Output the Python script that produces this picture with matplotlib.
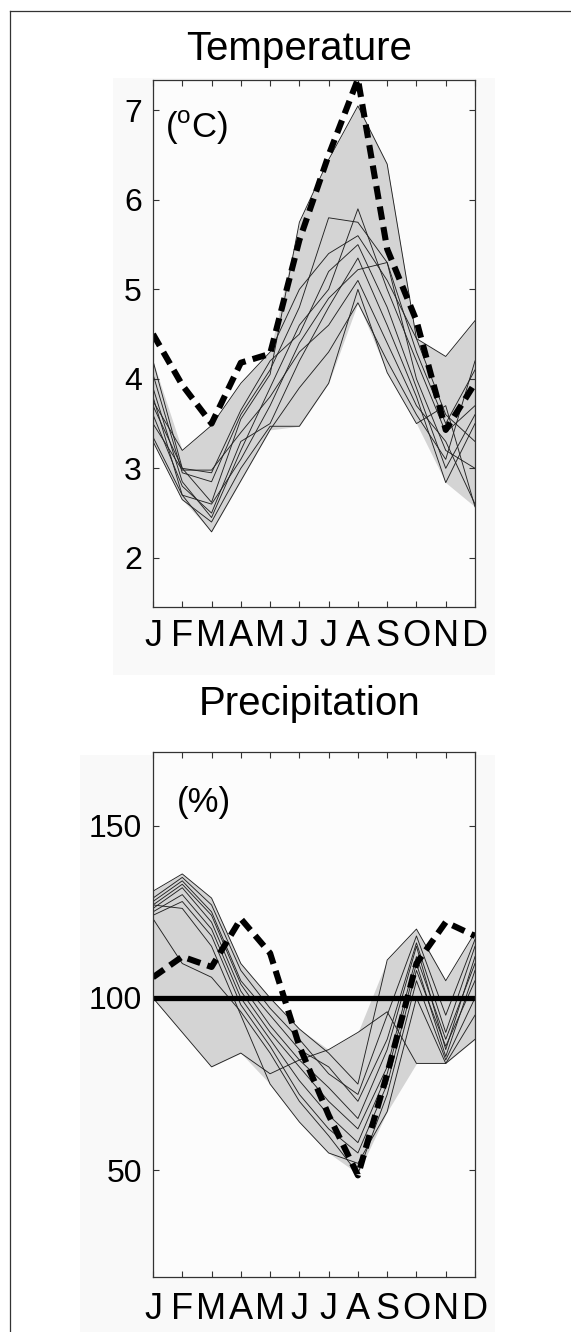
import numpy as np
import matplotlib
matplotlib.use("Agg")
import matplotlib.pyplot as plt
from matplotlib.lines import Line2D
from matplotlib.patches import Rectangle

plt.rcParams["font.family"] = ["Liberation Sans", "DejaVu Sans"]
plt.rcParams["mathtext.fontset"] = "custom"
plt.rcParams["mathtext.rm"] = "Liberation Sans"

months = ["J", "F", "M", "A", "M", "J", "J", "A", "S", "O", "N", "D"]
month_idx = np.arange(1, 13)

# Temperature change (degC): ensemble members
temp_m1 = [4.20, 3.00, 2.62, 3.55, 4.05, 5.75, 6.45, 7.05, 6.40, 4.45, 3.60, 3.30]
temp_m2 = [4.05, 2.95, 2.85, 3.60, 4.10, 4.80, 5.80, 5.75, 5.30, 4.30, 3.50, 4.10]
temp_m3 = [3.90, 2.85, 2.45, 3.20, 3.90, 4.60, 5.00, 5.90, 5.00, 4.20, 3.40, 3.70]
temp_m4 = [3.80, 2.70, 2.60, 3.10, 3.70, 4.40, 4.90, 5.22, 5.30, 4.00, 3.20, 3.00]
temp_m5 = [3.70, 3.00, 2.95, 3.65, 4.20, 4.50, 5.20, 5.50, 4.80, 3.90, 3.00, 3.60]
temp_m6 = [3.60, 2.80, 2.50, 3.30, 3.50, 4.20, 4.80, 5.35, 4.60, 3.80, 2.84, 3.50]
temp_m7 = [3.50, 2.98, 2.98, 3.40, 3.80, 4.30, 4.60, 5.10, 4.40, 3.70, 3.30, 2.60]
temp_m8 = [3.35, 2.70, 2.29, 2.86, 3.43, 3.90, 4.30, 4.85, 4.20, 3.60, 3.10, 4.20]
temp_m9 = [3.30, 2.65, 2.40, 3.00, 3.47, 3.47, 3.95, 5.00, 4.07, 3.50, 3.70, 2.57]
temp_m10 = [3.75, 3.20, 3.48, 3.95, 4.30, 5.00, 5.40, 5.60, 5.10, 4.45, 4.25, 4.65]
temp_dashed = [4.50, 3.93, 3.50, 4.18, 4.28, 5.55, 6.50, 7.35, 5.45, 4.65, 3.43, 3.95]

# Precipitation change (%): ensemble members
prec_m1 = [131, 136, 129, 110, 100, 91, 84, 75, 111, 120, 105, 119]
prec_m2 = [129, 135, 127, 108, 97, 88, 78, 72, 95, 118, 95, 117]
prec_m3 = [128, 134, 125, 105, 95, 85, 80, 70, 88, 116, 90, 115]
prec_m4 = [127, 133, 124, 104, 92, 82, 74, 65, 85, 115, 85, 112]
prec_m5 = [126, 132, 122, 102, 90, 80, 70, 62, 80, 112, 88, 110]
prec_m6 = [125, 130, 120, 100, 88, 76, 66, 58, 78, 110, 83, 108]
prec_m7 = [124, 128, 118, 98, 86, 72, 62, 55, 75, 108, 86, 105]
prec_m8 = [123, 110, 106, 96, 84, 70, 60, 49, 72, 105, 82, 100]
prec_m9 = [127, 126, 115, 95, 75, 64, 55, 52, 67, 100, 81, 95]
prec_m10 = [100, 90, 80, 84, 78, 82, 85, 90, 96, 81, 81, 88]
prec_dashed = [106, 112, 109, 123, 113, 86, 66, 48.5, 78, 110, 122, 118]
prec_reference = 100

temp_members = [temp_m1, temp_m2, temp_m3, temp_m4, temp_m5,
                temp_m6, temp_m7, temp_m8, temp_m9, temp_m10]
prec_members = [prec_m1, prec_m2, prec_m3, prec_m4, prec_m5,
                prec_m6, prec_m7, prec_m8, prec_m9, prec_m10]

W, H = 571, 1332
fig = plt.figure(figsize=(W / 100, H / 100), dpi=100)
fig.patch.set_facecolor("white")


def fx(px):
    return px / W


def fy(py):
    return 1 - py / H


# outer frame (left and top edges)
fig.add_artist(Line2D([fx(9.5), fx(9.5)], [fy(11), 0], color="#333333", lw=0.9,
                      transform=fig.transFigure))
fig.add_artist(Line2D([fx(9.5), 1], [fy(11), fy(11)], color="#333333", lw=0.9,
                      transform=fig.transFigure))

# light panel backdrops
fig.add_artist(Rectangle((fx(113), fy(675)), fx(495) - fx(113), fy(78) - fy(675),
                         facecolor="#f9f9f9", edgecolor="none",
                         transform=fig.transFigure, zorder=-5))
fig.add_artist(Rectangle((fx(80), fy(1332)), fx(495) - fx(80), fy(755) - fy(1332),
                         facecolor="#f9f9f9", edgecolor="none",
                         transform=fig.transFigure, zorder=-5))

ax_t = fig.add_axes([fx(153), fy(607), fx(475) - fx(153), fy(80) - fy(607)])
ax_p = fig.add_axes([fx(153), fy(1277), fx(475) - fx(153), fy(752) - fy(1277)])

band_color = "#d4d4d4"
line_color = "#222222"


def draw_panel(ax, members, dashed, ylim, yticks, ytick_size, xpad):
    arr = np.array(members, dtype=float)
    lo = arr.min(axis=0)
    hi = arr.max(axis=0)
    ax.set_facecolor("#fcfcfc")
    ax.fill_between(month_idx, lo, hi, color=band_color, lw=0, zorder=1)
    for m in members:
        ax.plot(month_idx, m, color=line_color, lw=0.65, zorder=2)
    ax.plot(month_idx, dashed, color="black", lw=4.4, zorder=4,
            dashes=(2.2, 1.2), solid_capstyle="butt", dash_capstyle="butt")
    ax.set_xlim(1, 12)
    ax.set_ylim(*ylim)
    ax.set_xticks(month_idx)
    ax.set_xticklabels(months, fontsize=26)
    ax.set_yticks(yticks)
    ax.set_yticklabels([str(v) for v in yticks], fontsize=ytick_size)
    ax.tick_params(axis="both", direction="in", length=4, width=0.8,
                   color="#333333", top=True, right=True)
    ax.tick_params(axis="x", pad=xpad)
    ax.tick_params(axis="y", pad=8)
    for s in ax.spines.values():
        s.set_color("#333333")
        s.set_linewidth(0.9)
        s.set_zorder(6)


draw_panel(ax_t, temp_members, temp_dashed, (1.45, 7.34), [2, 3, 4, 5, 6, 7], 23, 9)
draw_panel(ax_p, prec_members, prec_dashed, (19, 171.4), [50, 100, 150], 23, 11)
ax_p.axhline(prec_reference, color="black", lw=3.8, zorder=5)

ax_t.text(fx(165 - 153) / (fx(475) - fx(153)), (fy(138) - fy(607)) / (fy(80) - fy(607)),
          r"(${}^{\mathrm{o}}$C)", transform=ax_t.transAxes, fontsize=25,
          ha="left", va="baseline")
ax_p.text(fx(177 - 153) / (fx(475) - fx(153)), (fy(812) - fy(1277)) / (fy(752) - fy(1277)),
          "(%)", transform=ax_p.transAxes, fontsize=25, ha="left", va="baseline")

fig.text(fx(299), fy(60), "Temperature", fontsize=29, ha="center", va="baseline")
fig.text(fx(310), fy(715), "Precipitation", fontsize=29, ha="center", va="baseline")

fig.savefig("out.png", dpi=100)
